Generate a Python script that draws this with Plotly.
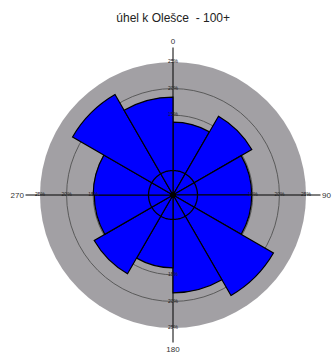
import numpy as np
import plotly.graph_objects as go

# Axial orientation frequencies (%), 30-degree sectors, mirrored across the rose
sector_start = [0, 30, 60, 90, 120, 150, 180, 210, 240, 270, 300, 330]
sector_pct = [13.7, 17.1, 14.8, 14.8, 21.8, 18.4, 13.7, 17.1, 14.8, 15.0, 21.8, 18.4]
ring_values = [15, 20, 25]
ring_labels = ["15%", "20%", "25%"]
cardinal_angles = [0, 90, 180, 270]
inner_circle_r = 4.6

sector_width = 30
theta_centers = [s + sector_width / 2 for s in sector_start]

fig = go.Figure()

# radial labels repeated along the four cardinal axes (under the bars)
lab_r, lab_t, lab_s = [], [], []
for a in cardinal_angles:
    for v, s in zip(ring_values, ring_labels):
        lab_r.append(v)
        lab_t.append(a)
        lab_s.append(s)
fig.add_trace(go.Scatterpolar(
    r=lab_r, theta=lab_t, text=lab_s, mode="text",
    textfont=dict(size=5, color="#202020", family="Liberation Sans, Arial"),
    hoverinfo="skip", showlegend=False,
))

fig.add_trace(go.Barpolar(
    r=sector_pct, theta=theta_centers, width=[sector_width] * len(sector_pct),
    marker=dict(color="#0000ff", line=dict(color="black", width=1.2)),
    showlegend=False,
))

# inner reference circle and centre dot
circ_t = np.linspace(0, 360, 181)
fig.add_trace(go.Scatterpolar(
    r=[inner_circle_r] * len(circ_t), theta=circ_t, mode="lines",
    line=dict(color="black", width=1.3), hoverinfo="skip", showlegend=False,
))
fig.add_trace(go.Scatterpolar(
    r=[0], theta=[0], mode="markers",
    marker=dict(color="black", size=6), hoverinfo="skip", showlegend=False,
))

fig.update_layout(
    width=333, height=354,
    margin=dict(l=40, r=27, t=62, b=26),
    paper_bgcolor="white",
    font=dict(family="Liberation Sans, Arial", color="#222"),
    title=dict(text="úhel k Olešce  - 100+", x=0.52, xanchor="center",
               y=1 - 18 / 354, yanchor="middle",
               font=dict(size=12, color="#222")),
    polar=dict(
        bgcolor="#a2a0a4",
        bargap=0,
        radialaxis=dict(range=[0, 25], tickvals=ring_values[:-1],
                        showticklabels=False, ticks="",
                        showline=False, gridcolor="#5a5a5a",
                        gridwidth=0.8),
        angularaxis=dict(rotation=90, direction="clockwise",
                         tickvals=cardinal_angles,
                         ticktext=[str(a) for a in cardinal_angles],
                         ticks="outside", ticklen=14, tickwidth=1.3,
                         tickcolor="black", showline=False,
                         showgrid=True, gridcolor="black", gridwidth=1.3,
                         tickfont=dict(size=8, color="#333")),
    ),
)

fig.write_html("out.html")
